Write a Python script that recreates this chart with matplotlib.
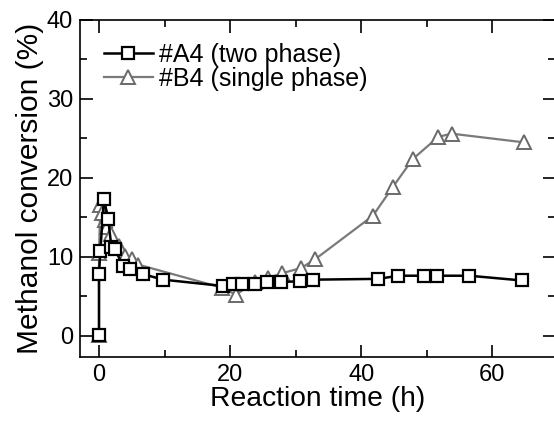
import matplotlib
matplotlib.use("Agg")
from matplotlib import pyplot as plt
from matplotlib.ticker import MultipleLocator

plt.rcParams['font.family'] = ['Liberation Sans', 'DejaVu Sans']

# Series A4 (two phase)
time_a = [0, 0, 0.2, 0.75, 1.4, 1.9, 2.4, 3.7, 4.7, 6.7, 9.8, 18.9,
          20.5, 21.8, 23.8, 25.6, 27.7, 30.7, 32.7, 42.6, 45.7, 49.6, 51.6, 56.5, 64.5]
conv_a = [0.1, 7.8, 10.7, 17.3, 14.8, 11.2, 11.0, 8.8, 8.4, 7.8, 7.1, 6.3,
          6.5, 6.6, 6.6, 6.8, 6.8, 6.9, 7.1, 7.2, 7.6, 7.6, 7.6, 7.6, 7.0]

# Series B4 (single phase)
time_b = [0, 0, 0.2, 0.4, 0.9, 1.2, 1.9, 3.0, 4.0, 5.0, 6.0, 18.7,
          20.9, 23.8, 25.8, 27.9, 30.9, 33.0, 41.8, 44.8, 47.9, 51.8, 53.8, 64.8]
conv_b = [0.1, 10.5, 16.5, 15.5, 14.6, 13.8, 12.9, 11.4, 10.1, 9.7, 9.0, 6.1,
          5.2, 6.8, 7.3, 7.9, 8.6, 9.7, 15.2, 18.8, 22.4, 25.2, 25.6, 24.5]

fig = plt.figure(figsize=(5.54, 4.21), dpi=100)
ax = fig.add_axes([0.1444, 0.152, 0.8576, 0.8005])

ax.plot(time_a, conv_a, color="black", lw=1.8, marker="s", markersize=9,
        markerfacecolor="white", markeredgecolor="black", markeredgewidth=1.6,
        label="#A4 (two phase)", zorder=3)
ax.plot(time_b, conv_b, color="#7a7a7a", lw=1.6, marker="^", markersize=10.5,
        markerfacecolor="white", markeredgecolor="#6a6a6a", markeredgewidth=1.4,
        label="#B4 (single phase)", zorder=2)

ax.set_xlim(-2.9, 69.6)
ax.set_ylim(-2.7, 40)
ax.xaxis.set_major_locator(MultipleLocator(20))
ax.xaxis.set_minor_locator(MultipleLocator(10))
ax.yaxis.set_major_locator(MultipleLocator(10))
ax.yaxis.set_minor_locator(MultipleLocator(5))
ax.tick_params(which="both", direction="in", top=True, right=True, labelsize=17, width=1.2)
ax.tick_params(which="major", length=9, pad=5)
ax.tick_params(which="minor", length=5)
for s in ax.spines.values():
    s.set_linewidth(1.2)

ax.set_xlabel("Reaction time (h)", fontsize=20.3, labelpad=0)
ax.set_ylabel("Methanol conversion (%)", fontsize=21.5, labelpad=2)

ax.legend(loc="upper left", frameon=False, fontsize=18, handlelength=1.95,
          handletextpad=0.25, labelspacing=0.0, borderaxespad=0.0,
          bbox_to_anchor=(0.029, 0.962))

fig.savefig("out.png", dpi=100)
